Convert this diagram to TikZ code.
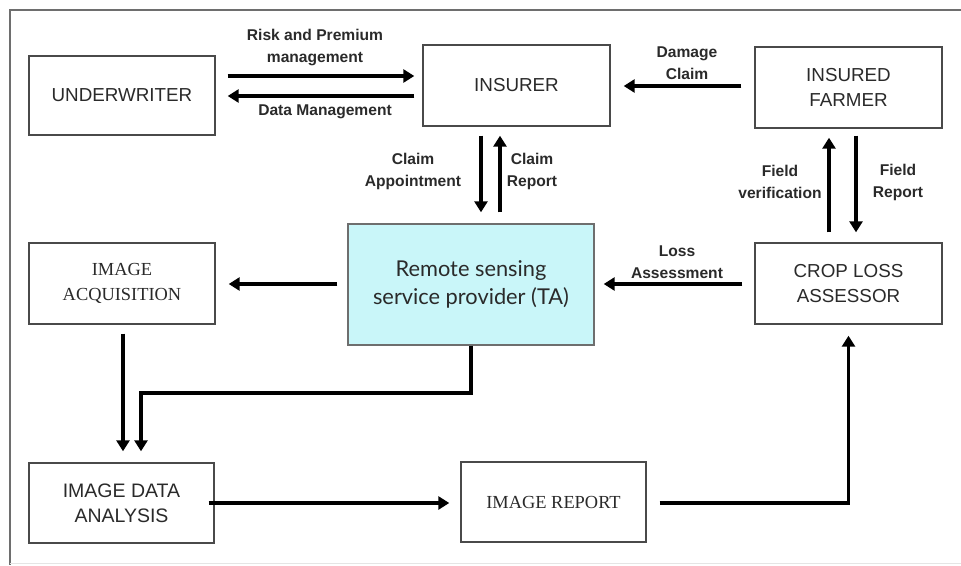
\documentclass[tikz,border=0pt]{standalone}
\usepackage{fontspec}
\setmainfont{Liberation Sans}
\newfontfamily\timesfam{Liberation Serif}
\newfontfamily\latofam{Lato}
\usetikzlibrary{arrows.meta}

\definecolor{boxline}{HTML}{4A4A4A}
\definecolor{boxtext}{HTML}{2A2A2A}
\definecolor{tafill}{HTML}{C9F6F9}
\definecolor{framegray}{HTML}{6E6E6E}

\tikzset{
  block/.style={draw=boxline, line width=1.4pt, fill=white, text=boxtext,
    align=center, inner sep=0pt},
  sansbox/.style={block, font=\fontsize{18.8}{25}\selectfont},
  serifbox/.style={block, font=\timesfam\fontsize{18.4}{25}\selectfont},
  tabox/.style={block, fill=tafill, draw=framegray,
    font=\latofam\fontsize{21.8}{28}\selectfont},
  arr/.style={line width=3.4pt, draw=black,
    -{Triangle[length=11pt,width=13pt]}},
  lbl/.style={font=\bfseries\fontsize{15.6}{22}\selectfont, text=boxtext,
    align=center, inner sep=0pt},
}

\begin{document}
\begin{tikzpicture}[x=1pt, y=-1pt]
\useasboundingbox (0,0) rectangle (961,565);

% outer frame
\draw[framegray, line width=1.6pt] (961,10) -- (10,10) -- (10,565);
\draw[gray!20, line width=1pt] (10,563) -- (961,563);

% blocks
\node[sansbox, minimum width=186pt, minimum height=79pt] (uw)  at (122,95.5)   {UNDERWRITER};
\node[sansbox, minimum width=187pt, minimum height=81pt] (ins) at (516.5,85.5)  {INSURER};
\node[sansbox, minimum width=187pt, minimum height=81pt] (farm) at (848.5,87.5) {INSURED\\FARMER};
\node[serifbox, minimum width=186pt, minimum height=81pt] (ia) at (122,283.5)   {IMAGE\\ACQUISITION};
\node[tabox, minimum width=246pt, minimum height=121pt] (rs) at (471,284.5)     {Remote sensing\\service provider (TA)};
\node[sansbox, minimum width=187pt, minimum height=81pt] (crop) at (848.5,283.5) {CROP LOSS\\ASSESSOR};
\node[sansbox, minimum width=185pt, minimum height=80pt, font=\fontsize{19.5}{25}\selectfont] (ida) at (121.5,503) {IMAGE DATA\\ANALYSIS};
\node[serifbox, minimum width=185pt, minimum height=80pt] (ir) at (553.5,502)   {IMAGE REPORT};

% connectors between the top row
\draw[arr, shorten <=12pt, shorten >=8pt] (uw.east |- 0,76) -- (ins.west |- 0,76);
\draw[arr, shorten <=8pt, shorten >=12pt] (ins.west |- 0,96) -- (uw.east |- 0,96);
\draw[arr, shorten <=13pt, shorten >=13pt] (farm.west |- 0,86) -- (ins.east |- 0,86);

% insurer <-> remote sensing provider
\draw[arr, shorten <=9pt, shorten >=11pt] (ins.south -| 481,0) -- (rs.north -| 481,0);
\draw[arr, shorten <=11pt, shorten >=9pt] (rs.north -| 500,0) -- (ins.south -| 500,0);

% farmer <-> crop loss assessor
\draw[arr, shorten <=10pt, shorten >=9pt] (crop.north -| 829,0) -- (farm.south -| 829,0);
\draw[arr, shorten <=7pt, shorten >=10pt] (farm.south -| 856,0) -- (crop.north -| 856,0);

% middle row
\draw[arr, shorten <=12pt, shorten >=9pt] (crop.west |- 0,284) -- (rs.east |- 0,284);
\draw[arr, shorten <=10pt, shorten >=13pt] (rs.west |- 0,284) -- (ia.east |- 0,284);

% into the image data analysis
\draw[arr, shorten <=9pt, shorten >=11pt] (ia.south -| 123,0) -- (ida.north -| 123,0);
\coordinate (bend) at (141,393);
\draw[arr, shorten >=11pt] (rs.south) |- (bend) -- (ida.north -| bend);

% bottom row
\draw[arr, shorten <=-6pt, shorten >=11pt] (ida.east |- 0,503) -- (ir.west |- 0,503);
\draw[arr, shorten <=13pt, shorten >=11pt] (ir.east |- 0,503) -| (crop.south);

% connector labels
\node[lbl] (l1) at (315,47)  {Risk and Premium\\management};
\node[lbl] (l2) at (325,112) {Data Management};
\node[lbl] (l3) at (687,63)  {Damage\\Claim};
\node[lbl] (l4) at (413,171) {Claim\\Appointment};
\node[lbl] (l5) at (532,171) {Claim\\Report};
\node[lbl] (l6) at (780,182) {Field\\verification};
\node[lbl] (l7) at (898,182) {Field\\Report};
\node[lbl] (l8) at (677,262) {Loss\\Assessment};
\end{tikzpicture}
\end{document}
